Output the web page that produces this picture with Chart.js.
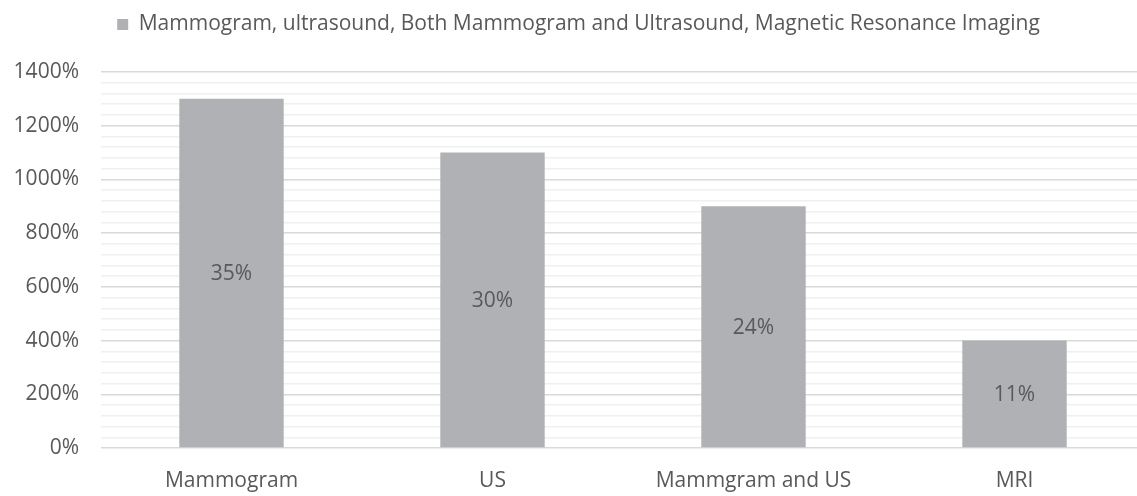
<!DOCTYPE html>
<html>
<head>
<meta charset="utf-8">
<script src="https://cdn.jsdelivr.net/npm/chart.js@4"></script>
<style>
  html, body { margin: 0; padding: 0; background: #fff; overflow: hidden; }
  #wrap { position: relative; width: 1174px; height: 496px; }
</style>
</head>
<body>
<div id="wrap"><canvas id="chart"></canvas></div>
<script>
// chart data
const categories = ["Mammogram", "US", "Mammgram and US", "MRI"];
const barValues = [1300, 1100, 900, 400];
const barLabels = ["35%", "30%", "24%", "11%"];
const seriesName = "Mammogram, ultrasound, Both Mammogram and Ultrasound, Magnetic Resonance Imaging";

const FONT = "'Open Sans', sans-serif";
const TEXT = "#595959";
const SIZE = 21;

// draws the percentage text in the middle of each bar
const barTextPlugin = {
  id: "barText",
  afterDatasetsDraw(chart) {
    const ctx = chart.ctx;
    const meta = chart.getDatasetMeta(0);
    ctx.save();
    ctx.font = SIZE + "px " + FONT;
    ctx.fillStyle = TEXT;
    ctx.textAlign = "center";
    ctx.textBaseline = "middle";
    meta.data.forEach((bar, i) => {
      const mid = (bar.y + bar.base) / 2 + 1;
      ctx.fillText(barLabels[i], bar.x, mid);
    });
    ctx.restore();
  }
};

// extra room between legend and plot
const legendGap = {
  id: "legendGap",
  beforeInit(chart) {
    const fit = chart.legend.fit;
    chart.legend.fit = function () {
      fit.bind(chart.legend)();
      this.height = 68;
    };
  }
};

new Chart(document.getElementById("chart"), {
  type: "bar",
  data: {
    labels: categories,
    datasets: [{
      label: seriesName,
      data: barValues,
      backgroundColor: "#b0b1b4",
      borderWidth: 0,
      barPercentage: 0.4,
      categoryPercentage: 1
    }]
  },
  options: {
    responsive: true,
    maintainAspectRatio: false,
    animation: false,
    layout: { padding: { left: 12, right: 29, top: 4, bottom: 0 } },
    plugins: {
      tooltip: { enabled: false },
      legend: {
        position: "top",
        labels: {
          color: TEXT,
          font: { family: FONT, size: SIZE },
          boxWidth: 11,
          boxHeight: 11,
          padding: 10
        }
      }
    },
    scales: {
      x: {
        grid: { display: false, drawTicks: false },
        border: { display: false },
        afterFit: (s) => { s.height = 48; },
        ticks: {
          color: TEXT,
          font: { family: FONT, size: SIZE },
          padding: 20
        }
      },
      y: {
        min: 0,
        max: 1400,
        border: { display: false },
        afterFit: (s) => { s.width = 89; },
        grid: {
          drawTicks: false,
          color: (c) => (c.tick && c.tick.value % 200 === 0 ? "#d9d9d9" : "#f0f0f0"),
          lineWidth: 1.5
        },
        ticks: {
          stepSize: 40,
          autoSkip: false,
          color: TEXT,
          font: { family: FONT, size: SIZE },
          padding: 22,
          callback: (v) => (v % 200 === 0 ? v + "%" : "")
        }
      }
    }
  },
  plugins: [barTextPlugin, legendGap]
});
</script>
</body>
</html>
